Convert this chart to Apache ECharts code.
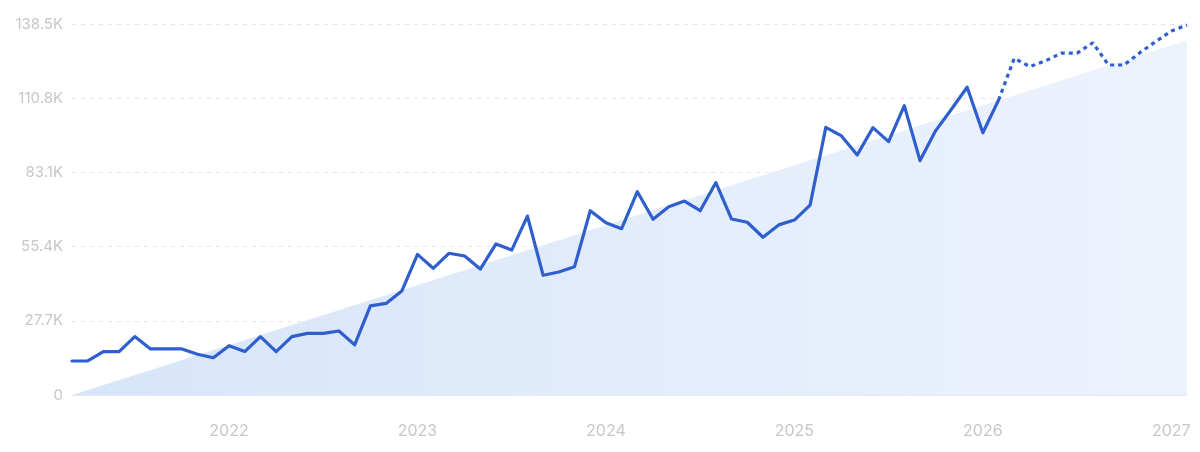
<!DOCTYPE html>
<html>
<head>
<meta charset="utf-8">
<script src="https://cdn.jsdelivr.net/npm/echarts@6/dist/echarts.min.js"></script>
<style>
html,body{margin:0;padding:0;background:#fff;}
#chart{width:1200px;height:452px;}
</style>
</head>
<body>
<div id="chart"></div>
<script>
// Months: 2021-03 .. 2027-02
const months = [
 '2021-03','2021-04','2021-05','2021-06','2021-07','2021-08','2021-09','2021-10','2021-11','2021-12',
 '2022-01','2022-02','2022-03','2022-04','2022-05','2022-06','2022-07','2022-08','2022-09','2022-10','2022-11','2022-12',
 '2023-01','2023-02','2023-03','2023-04','2023-05','2023-06','2023-07','2023-08','2023-09','2023-10','2023-11','2023-12',
 '2024-01','2024-02','2024-03','2024-04','2024-05','2024-06','2024-07','2024-08','2024-09','2024-10','2024-11','2024-12',
 '2025-01','2025-02','2025-03','2025-04','2025-05','2025-06','2025-07','2025-08','2025-09','2025-10','2025-11','2025-12',
 '2026-01','2026-02','2026-03','2026-04','2026-05','2026-06','2026-07','2026-08','2026-09','2026-10','2026-11','2026-12',
 '2027-01','2027-02'
];
// Observed values (solid line), 2021-03 .. 2026-02
const actual = [
 12700,12700,16200,16200,21800,17200,17200,17200,15200,13900,
 18400,16200,21800,16200,21800,23000,23000,23900,18700,33300,34200,38800,
 52500,47300,52900,51900,47000,56400,54100,66800,44700,45900,47900,68800,
 64300,62100,75900,65600,70300,72400,68800,79300,65700,64500,58900,63500,
 65300,70900,99900,96700,89600,99800,94600,108000,87500,98700,106700,114900,
 97900,110100
];
// Forecast values (dashed line), 2026-02 .. 2027-02
const forecastStart = '2026-02';
const forecast = [110100,125700,122600,124800,127600,127600,131500,123200,123200,127800,131900,135900,138100];
// Trend area end points
const trendStart = ['2021-03', 0];
const trendEnd = ['2027-02', 132300];
// Y-axis ticks
const yTicks = [0, 27700, 55400, 83100, 110800, 138500];

const solidData = months.map((m, i) => i < actual.length ? actual[i] : null);
const fIdx = months.indexOf(forecastStart);
const dashedData = months.map((m, i) => (i >= fIdx && i - fIdx < forecast.length) ? forecast[i - fIdx] : null);

const chart = echarts.init(document.getElementById('chart'));
const labelColor = '#c4c7cc';
chart.setOption({
  animation: false,
  grid: {left: 72, right: 13, top: 24, bottom: 57},
  xAxis: {
    type: 'category',
    data: months,
    boundaryGap: false,
    axisLine: {show: true, lineStyle: {color: '#e1eaf7', width: 1}},
    axisTick: {show: false},
    splitLine: {show: false},
    axisLabel: {
      color: labelColor,
      fontFamily: 'Inter',
      fontSize: 16,
      margin: 28,
      interval: (idx, val) => val.slice(5) === '01',
      formatter: v => v.slice(0, 4)
    }
  },
  yAxis: {
    type: 'value',
    min: yTicks[0],
    max: yTicks[yTicks.length - 1],
    interval: yTicks[1] - yTicks[0],
    axisLine: {show: false},
    axisTick: {show: false},
    splitLine: {show: true, lineStyle: {color: '#e2e5e9', type: [4, 5], width: 1}},
    axisLabel: {
      color: labelColor,
      fontFamily: 'Inter',
      fontSize: 15,
      margin: 9,
      formatter: v => v === 0 ? '0' : (v / 1000).toFixed(1) + 'K'
    }
  },
  series: [
    {
      type: 'line',
      data: [trendStart, trendEnd],
      symbol: 'none',
      lineStyle: {width: 0, opacity: 0},
      areaStyle: {
        opacity: 1,
        color: new echarts.graphic.LinearGradient(0, 0, 1, 0, [
          {offset: 0, color: '#d7e5f9'},
          {offset: 1, color: '#edf3fd'}
        ])
      },
      silent: true,
      z: 1
    },
    {
      type: 'line',
      data: solidData,
      symbol: 'none',
      connectNulls: false,
      lineStyle: {color: '#2f5fcd', width: 3.2, join: 'round', cap: 'round'},
      z: 3
    },
    {
      type: 'line',
      data: dashedData,
      symbol: 'none',
      connectNulls: false,
      lineStyle: {color: '#2f5fcd', width: 3.2, type: [4, 4]},
      z: 3
    }
  ]
});
</script>
</body>
</html>
